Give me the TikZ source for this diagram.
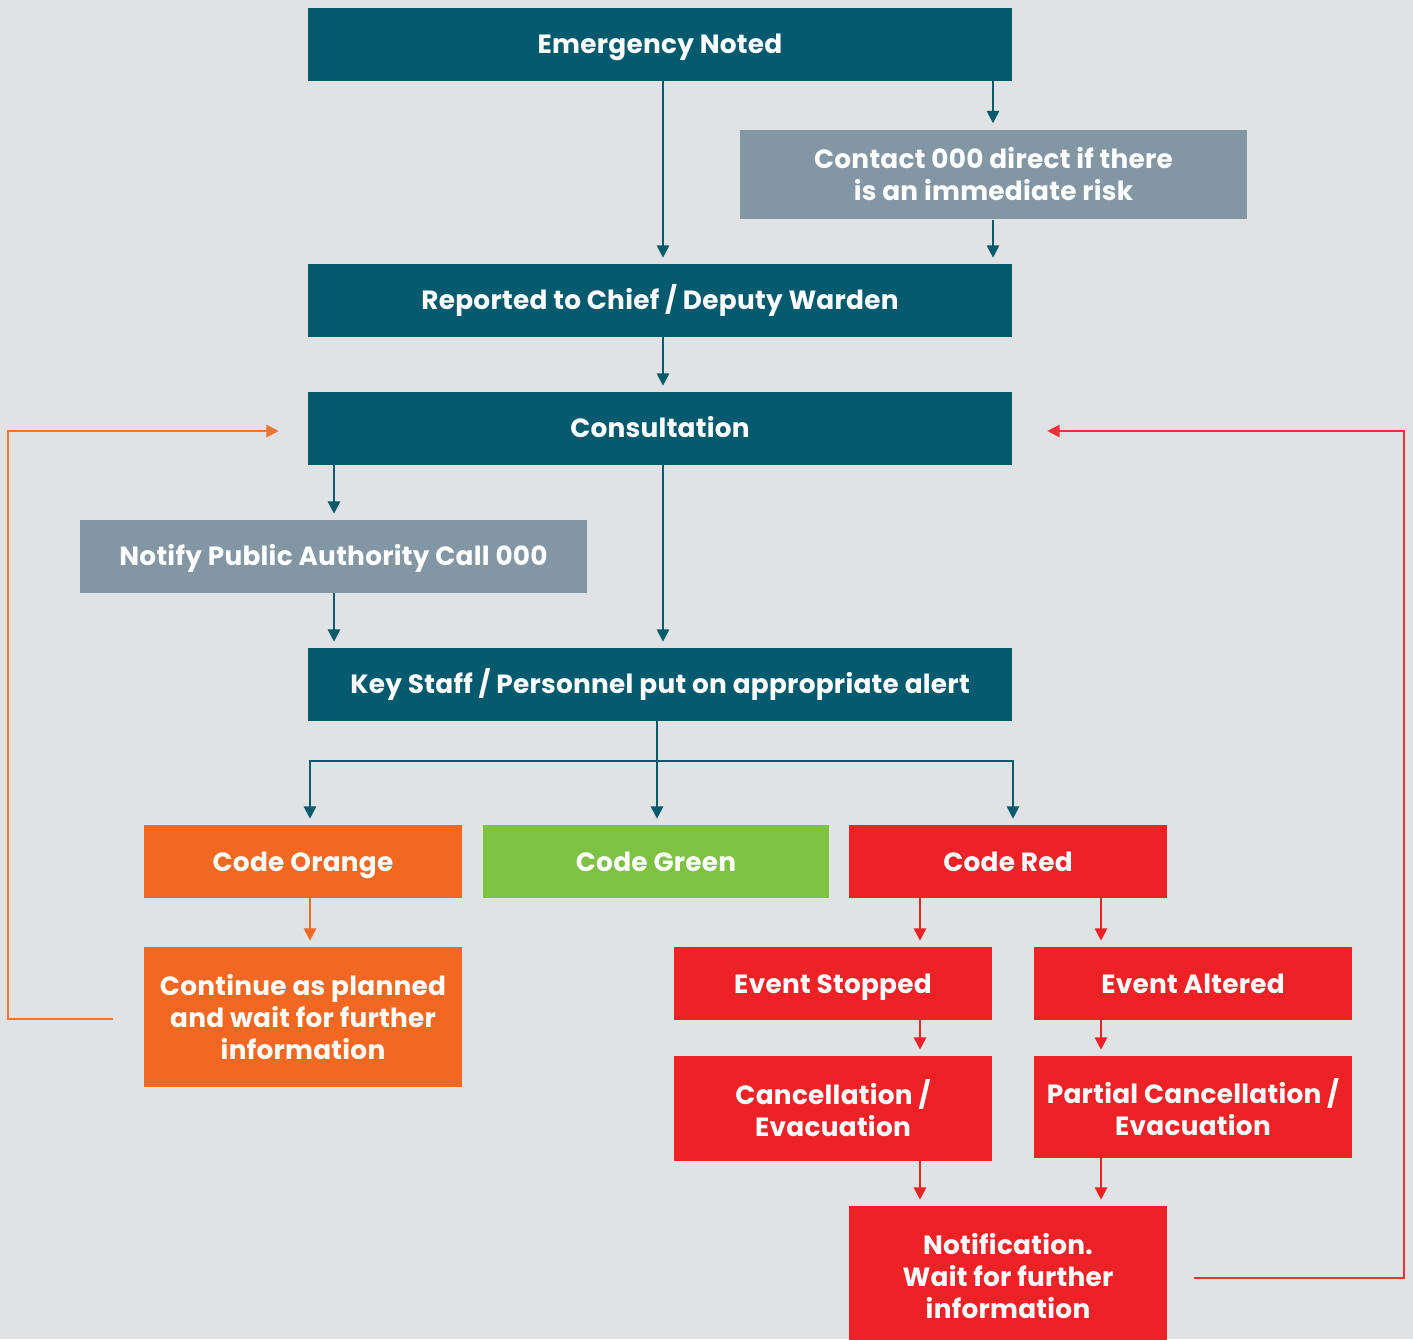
\documentclass[tikz,border=0pt]{standalone}
\usepackage{fontspec}
\setmainfont{Poppins}[LetterSpace=1]
\usetikzlibrary{arrows.meta,calc}
\definecolor{bggrey}{HTML}{E1E2E4}
\definecolor{boxteal}{HTML}{065A6E}
\definecolor{boxgrey}{HTML}{8296A4}
\definecolor{boxorange}{HTML}{F26722}
\definecolor{boxgreen}{HTML}{7DC242}
\definecolor{boxred}{HTML}{EC2227}
\definecolor{lineorange}{HTML}{F07434}
\definecolor{linered}{HTML}{EC3237}
\begin{document}
\begin{tikzpicture}[x=0.02cm,y=-0.02cm,>={Triangle[length=7pt,width=7pt]},
  box/.style={fill=#1,text=white,inner sep=0pt,align=center,font=\bfseries\fontsize{15}{18.2}\selectfont},
  oneline/.style={text height=10.8pt,text depth=0pt},
  wide/.style={oneline,minimum width=14.08cm,minimum height=1.46cm},
  half/.style={minimum width=6.36cm,minimum height=1.46cm},
  link/.style={draw=#1,line width=1.1pt,->,shorten >=3.4pt}]
\fill[bggrey] (0,0) rectangle (1413,1339);
\useasboundingbox (0,0) rectangle (1413,1339);
\node[box=boxteal,wide] (noted) at (660,44.5) {Emergency Noted};
\node[box=boxgrey,minimum width=10.14cm,minimum height=1.8cm] (contact) at (993.5,174.5) {Contact 000 direct if there\\is an immediate risk};
\node[box=boxteal,wide] (warden) at (660,300.5) {Reported to Chief / Deputy Warden};
\node[box=boxteal,wide] (consult) at (660,428.5) {Consultation};
\node[box=boxgrey,oneline,minimum width=10.14cm,minimum height=1.46cm] (notify) at (333.5,556.5) {Notify Public Authority Call 000};
\node[box=boxteal,wide] (alert) at (660,684.5) {Key Staff / Personnel put on appropriate alert};
\node[box=boxorange,half,oneline] (orange) at (303,861.5) {Code Orange};
\node[box=boxgreen,half,oneline,minimum width=6.92cm] (green) at (656,861.5) {Code Green};
\node[box=boxred,half,oneline] (red) at (1008,861.5) {Code Red};
\node[box=boxorange,half,minimum height=2.8cm] (continue) at (303,1017) {Continue as planned\\and wait for further\\information};
\node[box=boxred,half,oneline] (stopped) at (833,983.5) {Event Stopped};
\node[box=boxred,half,oneline] (altered) at (1193,983.5) {Event Altered};
\node[box=boxred,half,minimum height=2.1cm] (cancel) at (833,1108.5) {Cancellation /\\Evacuation};
\node[box=boxred,half,minimum height=2.04cm] (partial) at (1193,1107) {Partial Cancellation /\\Evacuation};
\node[box=boxred,half,minimum height=2.8cm] (notice) at (1008,1276) {Notification.\\Wait for further\\information};
\coordinate (xa) at (663,0);
\coordinate (xb) at (993,0);
\coordinate (xc) at (334,0);
\coordinate (xd) at (310,0);
\coordinate (xe) at (1013,0);
\coordinate (xf) at (920,0);
\coordinate (xg) at (1101,0);
\coordinate (bus) at (657,761);
\coordinate (lx) at (8,0);
\coordinate (rx) at (1404,0);
\coordinate (backl) at ($(consult.west)+(-29,2.5)$);
\coordinate (backr) at ($(consult.east)+(35,2.5)$);
\draw[link=boxteal] (noted.south -| xa) -- (warden.north -| xa);
\draw[link=boxteal] (noted.south -| xb) -- (contact.north -| xb);
\draw[link=boxteal] (contact.south -| xb) -- (warden.north -| xb);
\draw[link=boxteal] (warden.south -| xa) -- (consult.north -| xa);
\draw[link=boxteal] (consult.south -| xc) -- (notify.north -| xc);
\draw[link=boxteal] (notify.south -| xc) -- (alert.north -| xc);
\draw[link=boxteal] (consult.south -| xa) -- (alert.north -| xa);
\draw[link=boxteal] (alert.south -| bus) -- (green.north -| bus);
\draw[link=boxteal,<->,shorten <=3.4pt] (orange.north -| xd) |- (bus -| xe) -- (red.north -| xe);
\draw[link=boxorange] (orange.south -| xd) -- (continue.north -| xd);
\draw[link=boxred] (red.south -| xf) -- (stopped.north -| xf);
\draw[link=boxred] (red.south -| xg) -- (altered.north -| xg);
\draw[link=boxred] (stopped.south -| xf) -- (cancel.north -| xf);
\draw[link=boxred] (altered.south -| xg) -- (partial.north -| xg);
\draw[link=boxred] (cancel.south -| xf) -- (notice.north -| xf);
\draw[link=boxred] (partial.south -| xg) -- (notice.north -| xg);
\draw[link=lineorange,shorten >=0pt] ($(continue.west)+(-31,2)$) -| (lx |- backl) -- (backl);
\draw[link=linered,shorten >=0pt] ($(notice.east)+(27,2)$) -| (rx |- backr) -- (backr);
\end{tikzpicture}
\end{document}
